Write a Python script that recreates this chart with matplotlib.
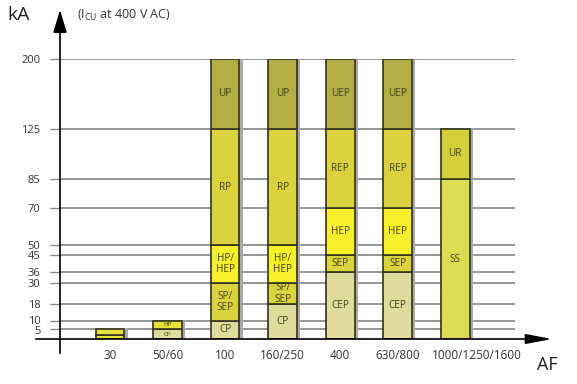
import numpy as np
import matplotlib
matplotlib.use('Agg')
import matplotlib.pyplot as plt
import matplotlib.patheffects as pe
import matplotlib.transforms as mtransforms

plt.rcParams['font.family'] = ['Open Sans', 'DejaVu Sans']
plt.rcParams['mathtext.fontset'] = 'custom'
plt.rcParams['mathtext.rm'] = 'Open Sans'

# frame size (AF) categories
AF_LABELS = ['30', '50/60', '100', '160/250', '400', '630/800', '1000/1250/1600']

# breaking capacity steps of each bar (kA), from bottom to top
BAR_BOUNDS = [
    [0, 2, 5],
    [0, 5, 10],
    [0, 10, 30, 50, 125, 200],
    [0, 18, 30, 50, 125, 200],
    [0, 36, 45, 70, 125, 200],
    [0, 36, 45, 70, 125, 200],
    [0, 85, 125],
]
BAR_NAMES = [
    ['', ''],
    ['CP', 'HP'],
    ['CP', 'SP/\nSEP', 'HP/\nHEP', 'RP', 'UP'],
    ['CP', 'SP/\nSEP', 'HP/\nHEP', 'RP', 'UP'],
    ['CEP', 'SEP', 'HEP', 'REP', 'UEP'],
    ['CEP', 'SEP', 'HEP', 'REP', 'UEP'],
    ['SS', 'UR'],
]

# y axis tick values
Y_TICKS = [5, 10, 18, 30, 36, 45, 50, 70, 85, 125, 200]

# the printed scale is not linear: height of each value above the axis
SCALE_VALS = [0, 5, 10, 18, 30, 36, 45, 50, 70, 85, 125, 200]
SCALE_LEVELS = [0, 10, 18, 35, 56, 67, 84, 94, 131, 160, 210, 280]

COLORS = {
    '': '#e4e23e',
    'CP': '#dedb9c', 'CEP': '#dedb9c',
    'HP': '#e6e23a',
    'SP/\nSEP': '#d8d33e', 'SEP': '#d8d33e',
    'HP/\nHEP': '#f6f02c', 'HEP': '#f6f02c',
    'RP': '#dad23e', 'REP': '#dad23e',
    'UP': '#b3ad46', 'UEP': '#b3ad46',
    'SS': '#dcdb52', 'UR': '#d6cf3c',
}


def fwd(v):
    return np.interp(v, SCALE_VALS, SCALE_LEVELS)


def inv(v):
    return np.interp(v, SCALE_LEVELS, SCALE_VALS)


fig = plt.figure(figsize=(5.77, 3.84), dpi=100)
ax = fig.add_axes([60 / 577, 45 / 384, 455 / 577, 280 / 384])
ax.set_yscale('function', functions=(fwd, inv))
ax.set_ylim(0, 200)
ax.set_xlim(-0.87, 7.04)

x = np.arange(len(AF_LABELS))
width = 0.5

# drop shadows behind the bars
tops = [b[-1] for b in BAR_BOUNDS]
ax.bar(x, tops, width, color='none', zorder=2,
       path_effects=[pe.SimplePatchShadow(offset=(2.3, 1.0),
                                          shadow_rgbFace='#a9a9a9', alpha=1)])

for i, (bounds, names) in enumerate(zip(BAR_BOUNDS, BAR_NAMES)):
    for lo, hi, name in zip(bounds[:-1], bounds[1:], names):
        ax.bar(x[i], hi - lo, width, bottom=lo, color=COLORS[name],
               edgecolor='#34321a', linewidth=1.2, zorder=3)
        if name:
            mid = inv((fwd(lo) + fwd(hi)) / 2)
            fs = 4.5 if i == 1 else 7.2
            ax.text(x[i], mid, name, ha='center', va='center', fontsize=fs,
                    color='#45401a', linespacing=1.0, zorder=4)

ax.set_yticks(Y_TICKS)
ax.set_yticklabels([str(v) for v in Y_TICKS])
ax.yaxis.grid(True, color='#8c8c8c', linewidth=1.3)
ax.set_axisbelow(True)
ax.tick_params(axis='y', length=7, width=1.0, color='#8c8c8c',
               labelsize=8, labelcolor='#333333', pad=7)
ax.set_xticks(x)
ax.set_xticklabels(AF_LABELS)
ax.tick_params(axis='x', length=0, labelsize=8.5, labelcolor='#333333', pad=7)
for s in ax.spines.values():
    s.set_visible(False)

# small nudges so the crowded labels do not collide
ylabels = ax.get_yticklabels()
ylabels[0].set_transform(ylabels[0].get_transform()
                         + mtransforms.ScaledTranslation(0, -1.5 / 100, fig.dpi_scale_trans))
ylabels[1].set_transform(ylabels[1].get_transform()
                         + mtransforms.ScaledTranslation(0, 1.5 / 100, fig.dpi_scale_trans))
xlabels = ax.get_xticklabels()
xlabels[-1].set_transform(xlabels[-1].get_transform()
                          + mtransforms.ScaledTranslation(22 / 100, 0, fig.dpi_scale_trans))

# axes with arrow heads
ax.annotate('', xy=(60, 377), xytext=(60, 28), xycoords='figure pixels',
            textcoords='figure pixels',
            arrowprops=dict(arrowstyle='-|>,head_length=1.4,head_width=0.42',
                            color='black', lw=1.2, mutation_scale=10))
ax.annotate('', xy=(555, 45), xytext=(33, 45), xycoords='figure pixels',
            textcoords='figure pixels',
            arrowprops=dict(arrowstyle='-|>,head_length=1.6,head_width=0.3',
                            color='black', lw=1.2, mutation_scale=10))

fig.text(7 / 577, 1 - 15 / 384, 'kA', fontsize=14, va='center', color='#222222')
fig.text(77 / 577, 1 - 15 / 384, r'(I$_{\mathrm{CU}}$ at 400 V AC)', fontsize=9,
         va='center', color='#333333')
fig.text(537 / 577, 1 - 365 / 384, 'AF', fontsize=13, va='center', color='#222222')

fig.savefig('out.png', dpi=100)
